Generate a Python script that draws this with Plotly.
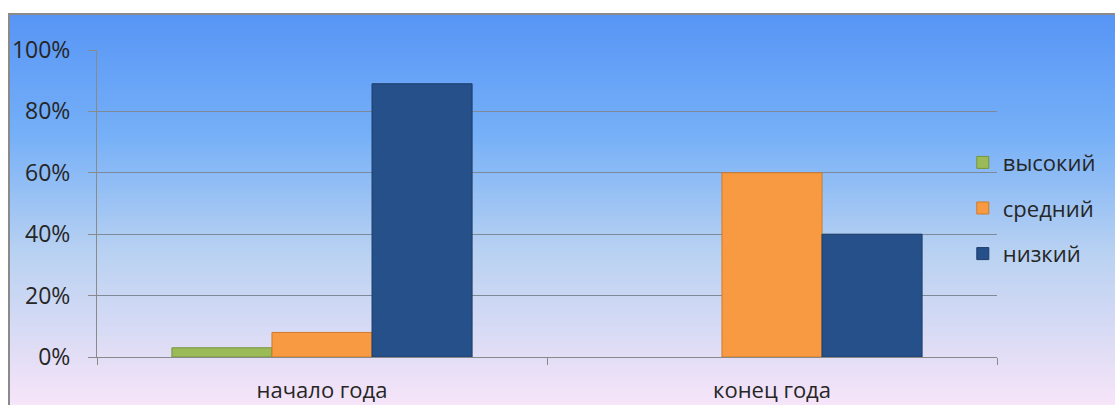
import base64, struct, zlib
import plotly.graph_objects as go

categories = ["начало года", "конец года"]
series_names = ["высокий", "средний", "низкий"]
vysokiy = [3, 0]
sredniy = [8, 60]
nizkiy = [89, 40]
y_ticks = [0, 20, 40, 60, 80, 100]
y_tick_labels = ["0%", "20%", "40%", "60%", "80%", "100%"]

colors = ["#9bbb59", "#f79a42", "#26508a"]
edge_colors = ["#76933c", "#d07a2c", "#1c3c68"]

W, H = 1115, 405
L, T = 97, 50
PR, PB = 997, 357
R, B = W - PR, H - PB
PW, PH = PR - L, PB - T


def gradient_png(w, h, stops):
    rows = []
    for j in range(h):
        t = j / (h - 1)
        for k in range(len(stops) - 1):
            if stops[k][0] <= t <= stops[k + 1][0]:
                a, b = stops[k], stops[k + 1]
                f = (t - a[0]) / (b[0] - a[0]) if b[0] > a[0] else 0
                c = tuple(int(a[1][i] + (b[1][i] - a[1][i]) * f) for i in range(3))
                break
        rows.append(b"\x00" + bytes(c) * w)
    raw = b"".join(rows)

    def chunk(tag, data):
        return struct.pack(">I", len(data)) + tag + data + struct.pack(">I", zlib.crc32(tag + data) & 0xffffffff)

    png = b"\x89PNG\r\n\x1a\n" + chunk(b"IHDR", struct.pack(">IIBBBBB", w, h, 8, 2, 0, 0, 0))
    png += chunk(b"IDAT", zlib.compress(raw, 9)) + chunk(b"IEND", b"")
    return "data:image/png;base64," + base64.b64encode(png).decode()


bg = gradient_png(4, 200, [
    (0.0, (88, 150, 246)),
    (0.3, (118, 176, 248)),
    (0.6, (185, 210, 242)),
    (0.85, (225, 222, 246)),
    (1.0, (250, 230, 250)),
])

fig = go.Figure()
for name, vals, col, ec in zip(series_names, [vysokiy, sredniy, nizkiy], colors, edge_colors):
    fig.add_trace(go.Bar(
        x=categories, y=vals, name=name, legendgroup=name,
        marker=dict(color=col, line=dict(color=ec, width=[1 if v > 0 else 0 for v in vals])),
    ))

# chart frame with gradient fill
fx0 = (8 - L) / PW
fy1 = (PB - 14) / PH
fig.add_layout_image(dict(
    source=bg, xref="paper", yref="paper", x=fx0, y=fy1,
    sizex=(W - 8) / PW + 0.02, sizey=(H - 14) / PH + 0.02,
    xanchor="left", yanchor="top", sizing="stretch", layer="below",
))
fig.add_shape(type="rect", xref="paper", yref="paper", x0=fx0 + 1 / PW, y0=-1, x1=2, y1=fy1,
              line=dict(color="#8a8a8a", width=2), layer="below")

fig.update_layout(
    width=W, height=H,
    margin=dict(l=L, r=R, t=T, b=B, autoexpand=False),
    paper_bgcolor="white", plot_bgcolor="rgba(0,0,0,0)",
    barmode="group", bargap=0.333, bargroupgap=0,
    font=dict(family="Open Sans", size=22, color="#262626"),
    legend=dict(x=0.962, y=0.485, xanchor="left", yanchor="middle",
                bgcolor="rgba(0,0,0,0)", font=dict(size=22),
                tracegroupgap=14, itemwidth=30),
    showlegend=True,
)
fig.update_yaxes(range=[0, 100], tickvals=y_ticks, ticktext=y_tick_labels,
                 showgrid=True, gridcolor="#7f8a99", gridwidth=1,
                 showline=True, linecolor="#8a8a8a", ticks="outside", ticklen=8,
                 tickcolor="#8a8a8a", ticklabelstandoff=13, zeroline=False,
                 tickfont=dict(size=23), automargin=False)
fig.update_xaxes(showline=True, linecolor="#8a8a8a", ticks="outside", ticklen=7,
                 tickcolor="#8a8a8a", tickson="boundaries", ticklabelstandoff=14,
                 tickfont=dict(size=22), automargin=False)

fig.write_html("out.html",
               post_script="document.body.style.margin='0';document.body.style.overflow='hidden';",
               config={"displayModeBar": False})
